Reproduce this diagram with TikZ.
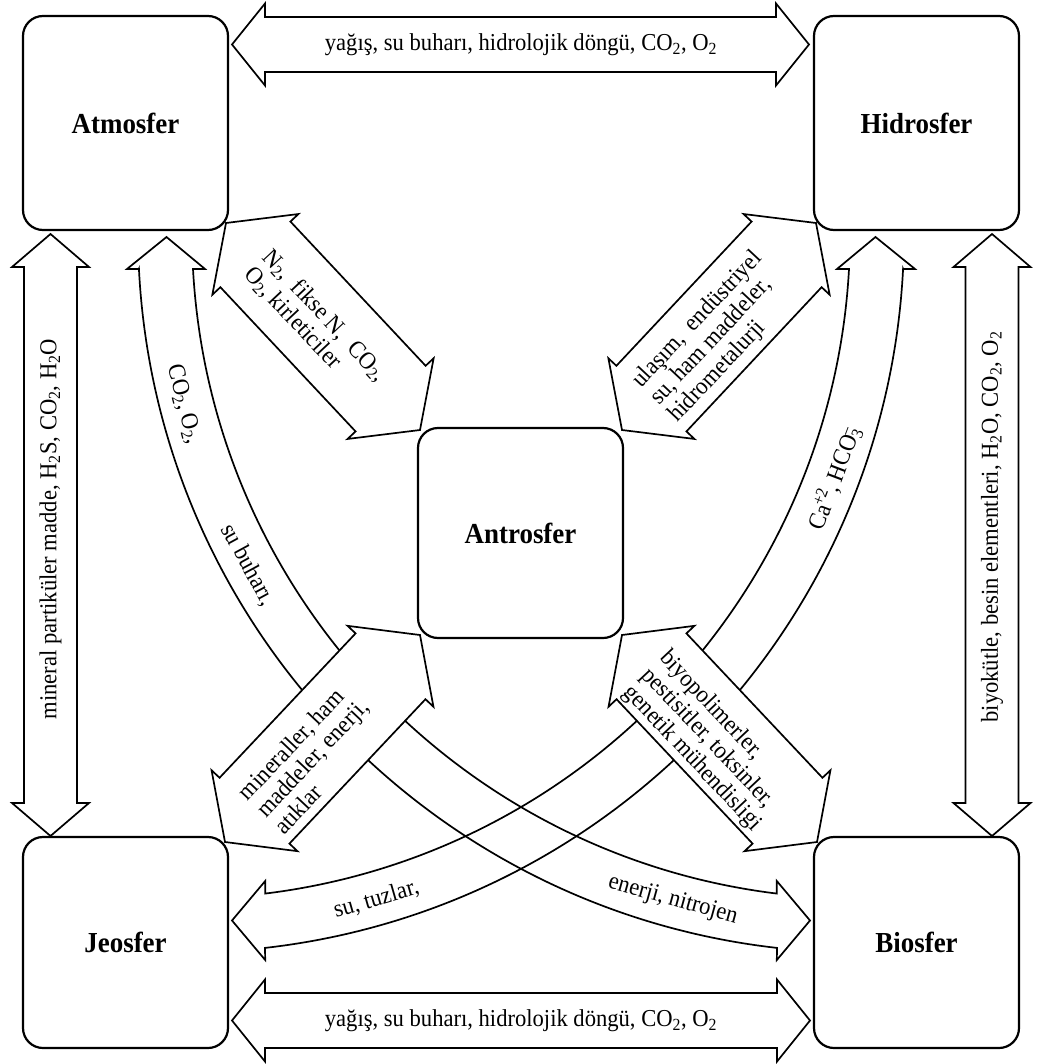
\documentclass[tikz,border=0pt]{standalone}
\usepackage{fontspec}
\setmainfont{Liberation Serif}[FakeStretch=0.93]
\usetikzlibrary{calc}
\tikzset{
  sphere/.style={draw, line width=2.2pt, rounded corners=20pt, minimum width=205pt,
    fill=white, font=\fontsize{29}{32}\selectfont\bfseries},
  arrowline/.style={line width=1.7pt, line join=miter, miter limit=20},
  lbl/.style={font=\fontsize{24.3}{25}\selectfont, inner sep=0pt},
}
% double block arrow between two named points: #1 from, #2 to, #3 shaft half width, #4 head half width, #5 head length
\newcommand\dblarrow[5]{%
  \draw[arrowline, fill=white] let \p1=(#1), \p2=(#2),
    \n1={atan2(\y2-\y1,\x2-\x1)}, \n2={veclen(\x2-\x1,\y2-\y1)} in
    (#1) -- ($(#1)+(\n1:#5)+(\n1+90:#4)$) -- ($(#1)+(\n1:#5)+(\n1+90:#3)$)
    -- ($(#1)+(\n1:\n2-#5)+(\n1+90:#3)$) -- ($(#1)+(\n1:\n2-#5)+(\n1+90:#4)$)
    -- (#2)
    -- ($(#1)+(\n1:\n2-#5)+(\n1-90:#4)$) -- ($(#1)+(\n1:\n2-#5)+(\n1-90:#3)$)
    -- ($(#1)+(\n1:#5)+(\n1-90:#3)$) -- ($(#1)+(\n1:#5)+(\n1-90:#4)$) -- cycle;}
\begin{document}
\begin{tikzpicture}[x=1pt,y=1pt]
\useasboundingbox (0,0) rectangle (1042,-1064);
% spheres
\node[sphere, minimum height=214pt] (atm) at (125.5,-123) {Atmosfer};
\node[sphere, minimum height=214pt] (hid) at (916.5,-123) {Hidrosfer};
\node[sphere, minimum height=211pt] (jeo) at (125.5,-942.5) {Jeosfer};
\node[sphere, minimum height=211pt] (bio) at (916.5,-942.5) {Biosfer};
\node[sphere, minimum height=210pt] (ant) at (520.5,-533) {Antrosfer};
% centres of the two curved arrows
\coordinate (c1) at (858,-232.5);
\coordinate (c2) at (184,-232.5);
% curved arrow Atmosfer <-> Biosfer
\draw[arrowline] (138.9,-269) -- (127,-269) -- (166.5,-237) -- (205,-269) -- (193,-269)
  arc[start angle=183.14, end angle=263.0, radius=666]
  -- (776.8,-881) -- (810,-920.5) -- (776.8,-960) -- (777,-947.9)
  arc[start angle=263.54, end angle=182.9, radius=720] -- cycle;
% curved arrow Hidrosfer <-> Jeosfer
\draw[arrowline] (903.1,-269) -- (915,-269) -- (875.5,-237) -- (837,-269) -- (849,-269)
  arc[start angle=-3.14, end angle=-83.0, radius=666]
  -- (265.2,-881) -- (232,-920.5) -- (265.2,-960) -- (265,-947.9)
  arc[start angle=-83.54, end angle=-2.9, radius=720] -- cycle;
% straight arrow end points
\coordinate (tL) at (232,-44.5);  \coordinate (tR) at (809,-44.5);
\coordinate (bL) at (232,-1020.5); \coordinate (bR) at (810,-1020.5);
\coordinate (lT) at (50.5,-234);  \coordinate (lB) at (50.5,-836);
\coordinate (rT) at (992,-234);   \coordinate (rB) at (992,-836);
\coordinate (nwA) at (226,-223);  \coordinate (nwB) at (420,-430);
\coordinate (neA) at (816,-223);  \coordinate (neB) at (622,-430);
\coordinate (swA) at (420,-635);  \coordinate (swB) at (225,-842);
\coordinate (seA) at (622,-635);  \coordinate (seB) at (817,-842);
\dblarrow{tL}{tR}{27.5}{41}{33}
\dblarrow{bL}{bR}{27.5}{41}{33}
\dblarrow{lT}{lB}{26.5}{38.5}{33}
\dblarrow{rT}{rB}{26.5}{38.5}{33}
\dblarrow{nwA}{nwB}{48}{59}{43}
\dblarrow{neA}{neB}{48}{59}{43}
\dblarrow{swA}{swB}{48}{59}{43}
\dblarrow{seA}{seB}{48}{59}{43}
% labels
\node[lbl] (ltop) at (521,-44.5) {yağış, su buharı, hidrolojik döngü, CO\textsubscript{2}, O\textsubscript{2}};
\node[lbl] (lbot) at (521,-1020.5) {yağış, su buharı, hidrolojik döngü, CO\textsubscript{2}, O\textsubscript{2}};
\node[lbl, rotate=90] (lleft) at (50.5,-529) {mineral partiküler madde, H\textsubscript{2}S, CO\textsubscript{2}, H\textsubscript{2}O};
\node[lbl, rotate=90] (lright) at (992,-527) {biyokütle, besin elementleri, H\textsubscript{2}O, CO\textsubscript{2}, O\textsubscript{2}};
\node[lbl, rotate=-46.86, anchor=west, align=left] (lnw) at (257,-262)
  {N\textsubscript{2},\ \ fikse N,\ \ CO\textsubscript{2},\\O\textsubscript{2}, kirleticiler};
\node[lbl, rotate=46.86, anchor=west, align=left] (lne) at (655,-402)
  {ulaşım,\ \ endüstriyel\\su, ham maddeler,\\hidrometalurji};
\node[lbl, rotate=46.7, anchor=west, align=left] (lsw) at (260,-813)
  {mineraller, ham\\maddeler, enerji,\\atıklar};
\node[lbl, rotate=-46.7, anchor=west, align=left] (lse) at (645,-672)
  {biyopolimerler,\\pestisitler, toksinler,\\genetik mühendisligi};
\node[lbl, rotate=-75.7] (lc1) at ($(c1)+(194.3:696)$) {CO\textsubscript{2}, O\textsubscript{2},};
\node[lbl, rotate=-61.4] (lc2) at ($(c1)+(208.6:695)$) {su buharı,};
\node[lbl, rotate=-15.5] (lc3) at ($(c1)+(254.5:693)$) {enerji, nitrojen};
\node[lbl, rotate=69.25] (lc4) at ($(c2)+(-20.75:695)$) {Ca\kern-0.08em\textsuperscript{+2}, HCO\textsubscript{3}\kern-0.4em\textsuperscript{–}};
\node[lbl, rotate=16.1] (lc5) at ($(c2)+(-73.9:694)$) {su, tuzlar,};
\end{tikzpicture}
\end{document}
